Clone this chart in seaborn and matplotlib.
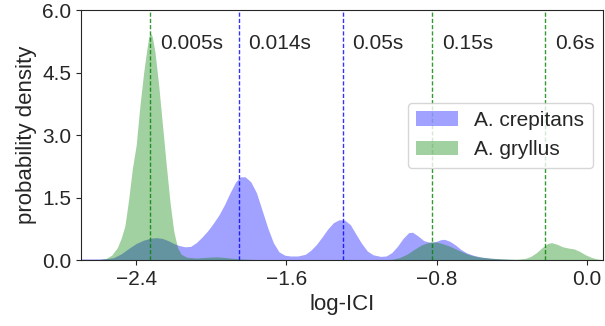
import numpy as np
import matplotlib
matplotlib.use("Agg")
import matplotlib.pyplot as plt
import seaborn as sns

# density curves (log-ICI, probability density)
crep_x = [-2.693, -2.60, -2.55, -2.52, -2.48, -2.44, -2.40, -2.36, -2.32, -2.29,
          -2.26, -2.23, -2.20, -2.17, -2.14, -2.11, -2.08, -2.05, -2.02, -1.99,
          -1.96, -1.93, -1.90, -1.87, -1.845, -1.82, -1.79, -1.76, -1.73, -1.70,
          -1.67, -1.64, -1.61, -1.58, -1.54, -1.50, -1.47, -1.44, -1.41, -1.38,
          -1.35, -1.32, -1.29, -1.26, -1.23, -1.20, -1.17, -1.14, -1.10, -1.07,
          -1.04, -1.01, -0.98, -0.95, -0.93, -0.90, -0.87, -0.84, -0.81, -0.78,
          -0.76, -0.73, -0.70, -0.67, -0.64, -0.60, -0.56, -0.50, -0.42, -0.30,
          0.085]
crep_y = [0.03, 0.03, 0.04, 0.06, 0.15, 0.28, 0.40, 0.48, 0.53, 0.54,
          0.52, 0.47, 0.40, 0.35, 0.32, 0.33, 0.42, 0.55, 0.70, 0.88,
          1.08, 1.33, 1.62, 1.88, 2.00, 2.00, 1.88, 1.62, 1.20, 0.78,
          0.42, 0.20, 0.12, 0.10, 0.10, 0.14, 0.24, 0.38, 0.56, 0.75,
          0.90, 0.97, 0.96, 0.85, 0.62, 0.40, 0.22, 0.13, 0.09, 0.10,
          0.18, 0.33, 0.52, 0.66, 0.67, 0.58, 0.47, 0.43, 0.44, 0.49,
          0.50, 0.45, 0.36, 0.25, 0.17, 0.11, 0.07, 0.04, 0.02, 0.01,
          0.0]

gryl_x = [-2.693, -2.60, -2.56, -2.53, -2.50, -2.48, -2.46, -2.44, -2.42, -2.40,
          -2.38, -2.36, -2.345, -2.333, -2.325, -2.315, -2.30, -2.28, -2.26, -2.24,
          -2.22, -2.20, -2.18, -2.16, -2.13, -2.08, -2.02, -1.97, -1.92, -1.85,
          -1.75, -1.10, -1.04, -1.00, -0.96, -0.92, -0.88, -0.84, -0.81, -0.78,
          -0.74, -0.70, -0.66, -0.62, -0.58, -0.52, -0.45, -0.38, -0.33, -0.30,
          -0.27, -0.24, -0.21, -0.19, -0.16, -0.13, -0.10, -0.07, -0.04, -0.01,
          0.02, 0.05, 0.085]
gryl_y = [0.0, 0.01, 0.04, 0.12, 0.30, 0.52, 0.82, 1.45, 2.20, 2.75,
          3.70, 4.50, 5.00, 5.35, 5.45, 5.38, 5.00, 4.20, 3.25, 2.30,
          1.40, 0.70, 0.30, 0.14, 0.07, 0.05, 0.07, 0.08, 0.06, 0.03,
          0.01, 0.005, 0.02, 0.06, 0.14, 0.26, 0.37, 0.43, 0.44, 0.41,
          0.35, 0.27, 0.19, 0.12, 0.08, 0.05, 0.03, 0.02, 0.04, 0.09,
          0.18, 0.30, 0.40, 0.42, 0.38, 0.32, 0.29, 0.27, 0.21, 0.13,
          0.07, 0.03, 0.01]

# marked inter-click intervals
marks = ["0.005s", "0.014s", "0.05s", "0.15s", "0.6s"]
mark_x = [-2.325, -1.854, -1.301, -0.824, -0.222]
mark_col = ["green", "blue", "blue", "green", "green"]

sns.set_style("ticks")
plt.rcParams['font.family'] = ['Liberation Sans', 'DejaVu Sans']

fig, ax = plt.subplots(figsize=(6.05, 3.26), dpi=100)
fig.subplots_adjust(left=0.134, right=0.997, bottom=0.202, top=0.969)

ax.fill_between(crep_x, crep_y, color="blue", alpha=0.37, linewidth=0,
                label="A. crepitans")
ax.fill_between(gryl_x, gryl_y, color="green", alpha=0.37, linewidth=0,
                label="A. gryllus")

for lab, x, c in zip(marks, mark_x, mark_col):
    ax.axvline(x, color=c, linestyle=(0, (3, 1.5)), linewidth=1.0, alpha=0.8)
    ax.text(x + 0.05, 5.2, lab, fontsize=15, color=".15", ha="left", va="center")

ax.set_xlim(-2.693, 0.085)
ax.set_ylim(0, 6)
ax.set_xticks([-2.4, -1.6, -0.8, 0.0])
ax.set_yticks([0, 1.5, 3.0, 4.5, 6.0])
ax.set_yticklabels(["0.0", "1.5", "3.0", "4.5", "6.0"])
ax.tick_params(labelsize=15, colors=".15")
ax.set_xlabel("log-ICI", fontsize=16, color=".15")
ax.set_ylabel("probability density", fontsize=16, color=".15")
ax.legend(loc="center right", fontsize=15, framealpha=0.8)

fig.savefig("out.png", dpi=100)
